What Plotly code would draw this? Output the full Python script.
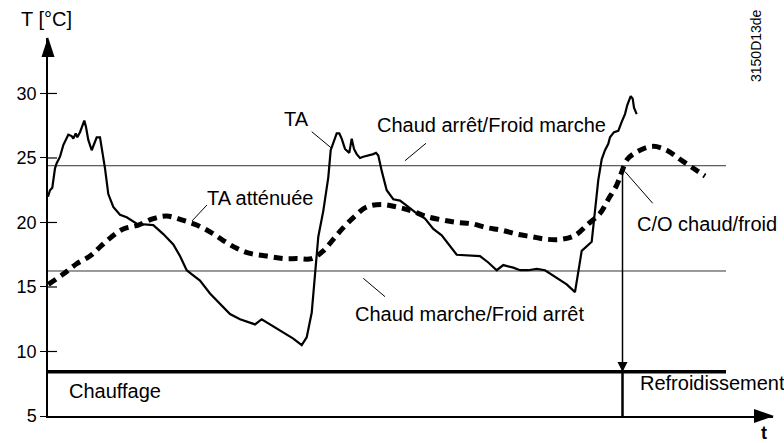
import plotly.graph_objects as go

# ---- data (time in arbitrary units, temperature in °C) ----
ta_t = [0.0, 0.2, 0.43, 0.7, 0.87, 1.2, 1.53, 2.03, 2.37, 2.53,
        2.77, 2.93, 3.2, 3.37, 3.63, 3.8, 4.03, 4.37, 4.7, 4.87,
        5.2, 5.37, 5.7, 6.03, 6.53, 7.2, 7.87, 8.87, 10.53, 11.53,
        12.53, 13.2, 13.87, 14.2, 15.2, 16.2, 17.2, 18.2, 19.2, 20.03,
        20.7, 21.37, 22.2, 23.2, 24.53, 25.37, 25.87, 26.37, 26.7, 27.03,
        27.53, 28.03, 28.27, 28.53, 28.87, 29.13, 29.37, 29.7, 30.13, 30.37,
        30.6, 30.87, 31.2, 31.53, 32.2, 32.53, 32.8, 33.03, 33.37, 33.87,
        34.53, 35.2, 35.87, 36.7, 37.7, 38.53, 39.37, 40.87, 43.2, 44.03,
        44.87, 45.53, 46.53, 47.2, 48.03, 48.87, 49.7, 50.53, 51.87, 52.7,
        53.37, 54.37, 54.7, 55.03, 55.37, 55.7, 56.03, 56.2, 56.6, 57.03,
        57.37, 57.7, 57.93, 58.13, 58.27, 58.47, 58.6, 58.87]
ta_val = [22.0, 22.5, 22.7, 24.2, 24.6, 25.1, 26.0, 26.8, 26.7, 26.5,
          26.9, 26.6, 27.0, 27.3, 27.9, 27.4, 26.4, 25.6, 26.2, 26.6,
          26.6, 25.8, 24.2, 22.2, 21.2, 20.6, 20.4, 19.9, 19.8, 19.1,
          18.3, 17.4, 16.3, 16.1, 15.5, 14.5, 13.7, 12.9, 12.5, 12.3,
          12.1, 12.5, 12.1, 11.6, 11.0, 10.5, 11.1, 13.0, 16.3, 18.9,
          20.9, 23.5, 25.6, 26.1, 26.9, 26.9, 26.5, 25.7, 25.4, 26.5,
          25.7, 25.3, 25.0, 25.1, 25.2, 25.3, 25.4, 25.2, 24.0, 22.5,
          21.8, 21.7, 21.3, 20.8, 20.3, 19.5, 19.0, 17.5, 17.4, 16.9,
          16.3, 16.7, 16.5, 16.3, 16.3, 16.4, 16.3, 15.9, 15.2, 14.6,
          17.8, 18.5, 20.7, 23.3, 24.9, 25.6, 26.1, 26.6, 27.0, 27.1,
          27.8, 28.4, 29.1, 29.5, 29.8, 29.6, 28.9, 28.4]
assert len(ta_t) == len(ta_val)

att_t = [0.03, 1.53, 2.87, 4.2, 5.2, 6.37, 7.53, 9.03, 10.53, 11.87, 13.37, 14.87, 16.37, 17.53,
         18.87, 20.2, 21.87, 23.53, 24.87, 26.37, 27.53, 28.53, 29.53, 30.7, 31.87, 33.37, 34.87,
         36.37, 37.7, 39.37, 40.87, 42.37, 43.87, 45.37, 46.87, 48.37, 49.87, 51.37, 52.7, 54.03,
         55.2, 56.03, 56.87, 57.37, 57.93, 59.2, 60.53, 61.87, 63.2, 64.53, 65.7]
att_val = [15.2, 16.0, 16.8, 17.4, 18.1, 18.9, 19.5, 19.8, 20.3, 20.5, 20.2, 19.8, 19.2, 18.6,
           18.0, 17.6, 17.4, 17.2, 17.2, 17.2, 17.8, 18.7, 19.6, 20.5, 21.2, 21.4, 21.2, 20.9,
           20.5, 20.2, 20.0, 19.9, 19.6, 19.4, 19.1, 18.9, 18.7, 18.7, 19.0, 19.9, 20.7, 21.8,
           22.9, 23.9, 24.9, 25.6, 25.9, 25.6, 24.9, 24.2, 23.6]
assert len(att_t) == len(att_val)

t_end = 67.8             # end of the threshold lines
heat_off_cool_on = 24.4  # Chaud arrêt/Froid marche
heat_on_cool_off = 16.24 # Chaud marche/Froid arrêt
mode_line = 8.43         # Chauffage / Refroidissement boundary
co_time = 57.45          # C/O chaud/froid
co_temp = 24.0

y_ticks = [5, 10, 15, 20, 25, 30]
y_range = [5, 34.3]
x_range = [0, 72.5]

FONT = "Liberation Sans, Arial, sans-serif"

fig = go.Figure()
fig.add_trace(go.Scatter(x=[0, t_end], y=[heat_off_cool_on] * 2, mode="lines",
                         line=dict(color="#333", width=1), hoverinfo="skip"))
fig.add_trace(go.Scatter(x=[0, t_end], y=[heat_on_cool_off] * 2, mode="lines",
                         line=dict(color="#333", width=1), hoverinfo="skip"))
fig.add_trace(go.Scatter(x=[0, t_end], y=[mode_line] * 2, mode="lines",
                         line=dict(color="black", width=3.5), hoverinfo="skip"))
fig.add_trace(go.Scatter(x=att_t, y=att_val, mode="lines", line_shape="spline",
                         line=dict(color="black", width=5, dash="9px,6px")))
fig.add_trace(go.Scatter(x=ta_t, y=ta_val, mode="lines",
                         line=dict(color="black", width=2.2)))
# C/O vertical line
fig.add_trace(go.Scatter(x=[co_time, co_time], y=[co_temp, mode_line], mode="lines",
                         line=dict(color="black", width=1.5), hoverinfo="skip"))
fig.add_trace(go.Scatter(x=[co_time, co_time], y=[mode_line, y_range[0]], mode="lines",
                         line=dict(color="black", width=2.5), hoverinfo="skip"))

L, R, T, B = 48, 11, 38, 27
W, H = 784, 443
pw, ph = W - L - R, H - T - B

def px(xp):
    return (xp - L) / pw

def py(yp):
    return (H - B - yp) / ph

shapes = []
# axis arrows
shapes.append(dict(type="path", xref="paper", yref="paper",
                   path=f"M {px(48)} {py(37)} L {px(41.5)} {py(57)} L {px(54.5)} {py(57)} Z",
                   fillcolor="black", line=dict(width=0)))
shapes.append(dict(type="path", xref="paper", yref="paper",
                   path=f"M {px(774)} {py(416)} L {px(754)} {py(409)} L {px(754)} {py(423)} Z",
                   fillcolor="black", line=dict(width=0)))
# C/O arrow head
shapes.append(dict(type="path", xref="paper", yref="paper",
                   path=f"M {px(622.5)} {py(372)} L {px(617.5)} {py(362)} L {px(627.5)} {py(362)} Z",
                   fillcolor="black", line=dict(width=0)))
# inner parts of ticks
for v in y_ticks[1:]:
    shapes.append(dict(type="line", xref="x", yref="y", x0=0, x1=0.9, y0=v, y1=v,
                       line=dict(color="black", width=1.2)))
# pointer lines
pointers = [(26.37, 27.04, 28.37, 25.75), (37.8, 26.14, 35.7, 24.79),
            (15.9, 21.36, 14.4, 20.12), (31.53, 15.67, 33.7, 14.25),
            (60.47, 21.49, 57.7, 23.94)]
for x0, y0, x1, y1 in pointers:
    shapes.append(dict(type="line", xref="x", yref="y", x0=x0, y0=y0, x1=x1, y1=y1,
                       line=dict(color="black", width=1)))

ann = []
def label(x, y, text, size=20):
    ann.append(dict(x=x, y=y, xref="x", yref="y", text=text, showarrow=False,
                    xanchor="left", yanchor="middle",
                    font=dict(size=size, color="black", family=FONT)))

label(23.37, 28.02, "TA")
label(32.7, 27.56, "Chaud arrêt/Froid marche")
label(15.7, 21.9, "TA atténuée")
label(30.53, 12.9, "Chaud marche/Froid arrêt")
label(58.7, 19.88, "C/O chaud/froid")
label(1.87, 6.96, "Chauffage")
label(59.03, 7.53, "Refroidissement")
ann.append(dict(x=px(46), y=py(19), xref="paper", yref="paper", text="T [°C]", showarrow=False,
                xanchor="center", yanchor="middle", font=dict(size=20, color="black", family=FONT)))
ann.append(dict(x=px(764), y=py(433), xref="paper", yref="paper", text="<b>t</b>", showarrow=False,
                xanchor="center", yanchor="middle", font=dict(size=18, color="black", family=FONT)))
ann.append(dict(x=px(756), y=py(46), xref="paper", yref="paper", text="3150D13de", showarrow=False,
                textangle=-90, xanchor="center", yanchor="middle",
                font=dict(size=14, color="black", family=FONT)))

fig.update_layout(
    width=W, height=H, margin=dict(l=L, r=R, t=T, b=B),
    paper_bgcolor="white", plot_bgcolor="white", showlegend=False,
    shapes=shapes, annotations=ann,
    xaxis=dict(range=x_range, showgrid=False, zeroline=False, showticklabels=False,
               ticks="", showline=True, linecolor="black", linewidth=2, fixedrange=True),
    yaxis=dict(range=y_range, tickvals=y_ticks, showgrid=False, zeroline=False,
               ticks="outside", ticklen=6, tickwidth=1.2, tickcolor="black",
               showline=True, linecolor="black", linewidth=1.5,
               tickfont=dict(size=18, color="black", family=FONT), fixedrange=True),
)
fig.write_html("out.html", config={"displayModeBar": False},
               post_script="document.body.style.margin='0';document.body.style.overflow='hidden';")
